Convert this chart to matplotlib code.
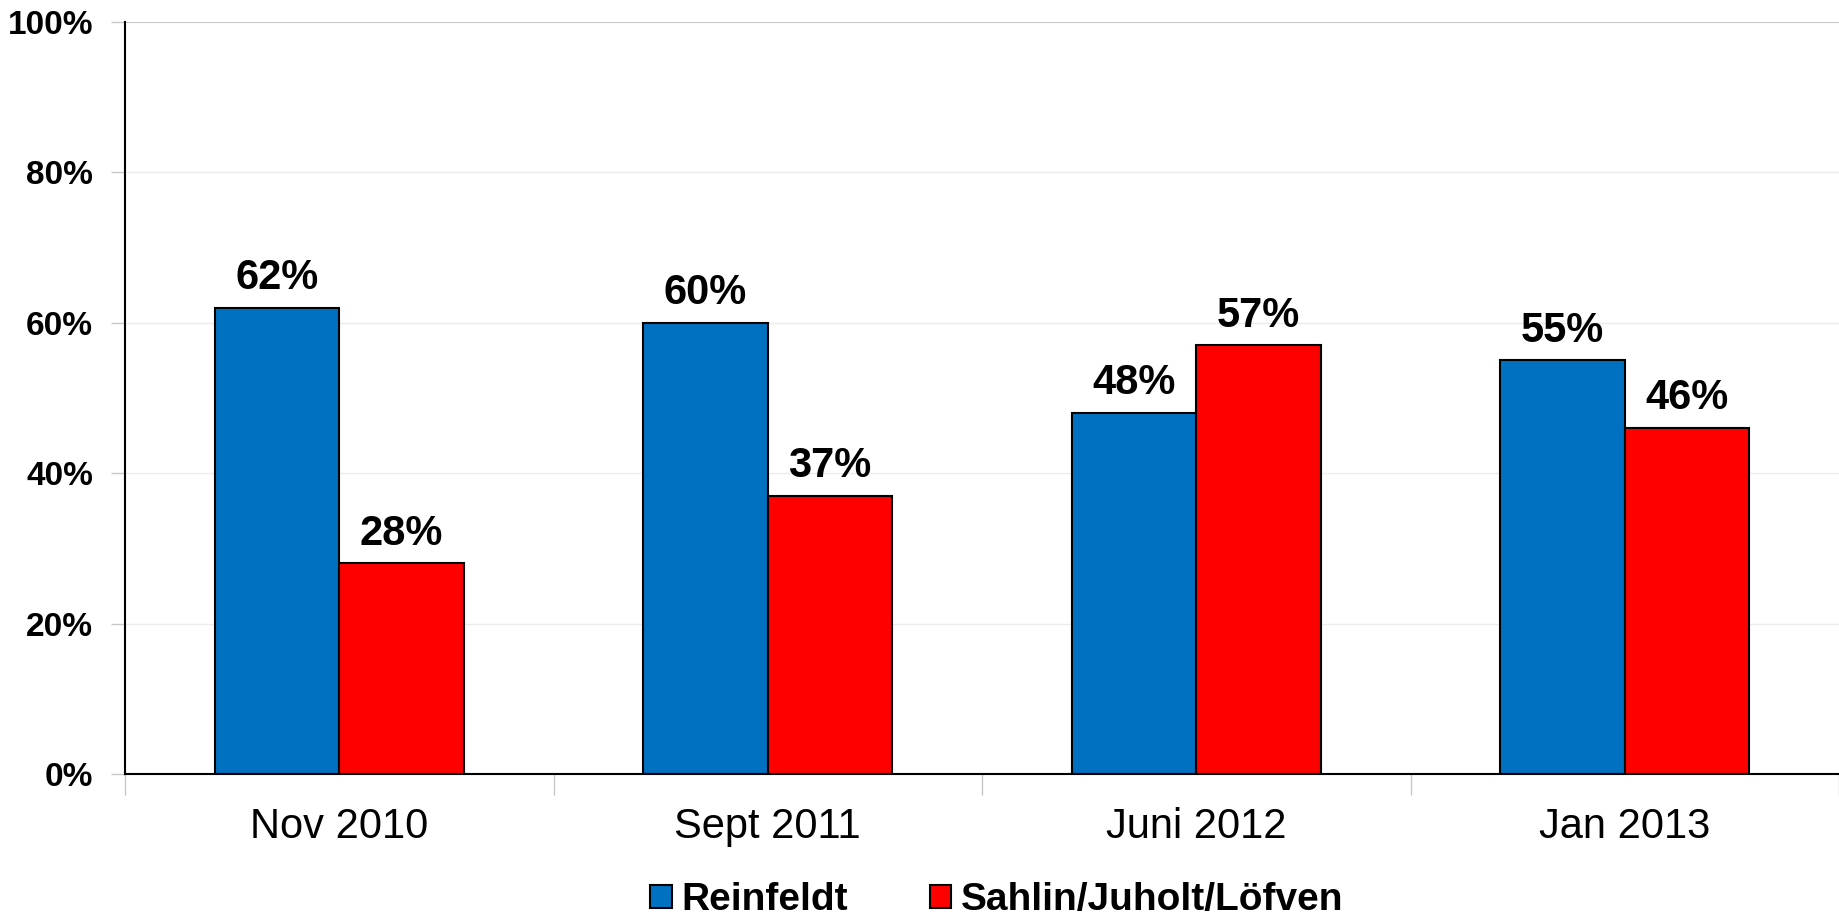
import matplotlib
matplotlib.use("Agg")
import matplotlib.pyplot as plt
import numpy as np
from matplotlib.patches import Patch

plt.rcParams['font.family'] = ['Liberation Sans', 'DejaVu Sans']

categories = ["Nov 2010", "Sept 2011", "Juni 2012", "Jan 2013"]
series_names = ["Reinfeldt", "Sahlin/Juholt/Löfven"]
reinfeldt = [62, 60, 48, 55]
sahlin = [28, 37, 57, 46]
yticks = [0, 20, 40, 60, 80, 100]
colors = ["#0070C0", "#FF0000"]

fig = plt.figure(figsize=(18.39, 9.19), dpi=100)
ax = fig.add_axes([125/1839, (919-774)/919, 1 - 125/1839, (774-22)/919])

x = np.arange(len(categories))
w = 0.29
b1 = ax.bar(x - w/2, reinfeldt, w, color=colors[0], edgecolor="black", linewidth=1.5, zorder=3)
b2 = ax.bar(x + w/2, sahlin, w, color=colors[1], edgecolor="black", linewidth=1.5, zorder=3)
for bars in (b1, b2):
    ax.bar_label(bars, labels=[f"{v}%" for v in bars.datavalues], padding=7,
                 fontsize=30, fontweight="bold")

ax.set_xlim(-0.5, len(categories) - 0.5)
ax.set_ylim(0, 100)

ax.set_yticks(yticks)
ax.set_yticklabels([f"{t}%" for t in yticks], fontsize=24, fontweight="bold")
ax.tick_params(axis="y", length=10, color="#c8c8c8", pad=13, width=1)
for t in yticks[1:]:
    ax.axhline(t, color="#c8c8c8" if t == 100 else "#ececec", linewidth=1.5 if t == 100 else 1, zorder=1)

ax.set_xticks(np.arange(len(categories) + 1) - 0.5)
ax.set_xticklabels([])
ax.tick_params(axis="x", which="major", length=15, color="#c8c8c8", width=1)
ax.set_xticks(x, minor=True)
ax.set_xticklabels(categories, minor=True, fontsize=30)
ax.tick_params(axis="x", which="minor", length=0, pad=24)

for s in ["top", "right"]:
    ax.spines[s].set_visible(False)
ax.spines["left"].set_linewidth(1.5)
ax.spines["bottom"].set_linewidth(1.5)
ax.spines["left"].set_zorder(4)
ax.spines["bottom"].set_zorder(4)

handles = [Patch(facecolor=c, edgecolor="black", linewidth=1.5) for c in colors]
fig.legend(handles, series_names, loc="center", bbox_to_anchor=(997/1839, (919-900)/919),
           ncol=2, frameon=False, prop={"size": 28, "weight": "bold"},
           handlelength=0.55, handleheight=0.55, handletextpad=0.25, columnspacing=2.1,
           borderpad=0, borderaxespad=0)

fig.savefig("out.png", dpi=100)
